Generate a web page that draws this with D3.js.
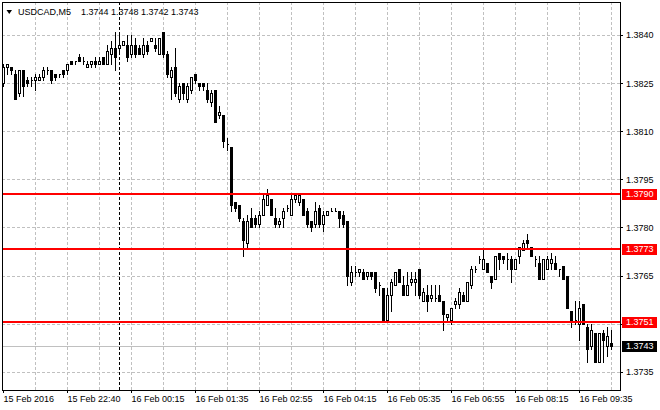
<!DOCTYPE html>
<html>
<head>
<meta charset="utf-8">
<script src="https://cdn.jsdelivr.net/npm/d3@7"></script>
<style>
  body { margin: 0; background: #fff; }
  svg { display: block; font-family: "Liberation Sans", Arial, sans-serif; }
</style>
</head>
<body>
<div id="vis"></div>
<script>
// USDCAD M5 bars (oldest first)
const symbol = "USDCAD,M5";

const open = [
  1.3825, 1.3830, 1.3830, 1.3828, 1.3822, 1.3829, 1.3826, 1.3826, 1.3826, 1.3826,
  1.3827, 1.3829, 1.3829, 1.3828, 1.3828, 1.3829, 1.3829, 1.3832, 1.3832, 1.3833,
  1.3832, 1.3830, 1.3831, 1.3832, 1.3831, 1.3833, 1.3831, 1.3834, 1.3836, 1.3836,
  1.3837, 1.3837, 1.3834, 1.3837, 1.3836, 1.3834, 1.3837, 1.3838, 1.3837, 1.3834,
  1.3841, 1.3834, 1.3827, 1.3830, 1.3820, 1.3825, 1.3820, 1.3823, 1.3828, 1.3825,
  1.3825, 1.3823, 1.3819, 1.3823, 1.3815, 1.3815, 1.3806, 1.3805, 1.3788, 1.3787,
  1.3782, 1.3775, 1.3783, 1.3783, 1.3781, 1.3784, 1.3787, 1.3789, 1.3783, 1.3781,
  1.3783, 1.3786, 1.3784, 1.3789, 1.3788, 1.3789, 1.3785, 1.3782, 1.3781, 1.3786,
  1.3781, 1.3784, 1.3785, 1.3785, 1.3785, 1.3784, 1.3782, 1.3763, 1.3766, 1.3766,
  1.3766, 1.3765, 1.3766, 1.3766, 1.3762, 1.3761, 1.3751, 1.3759, 1.3762, 1.3767,
  1.3762, 1.3759, 1.3763, 1.3763, 1.3767, 1.3757, 1.3759, 1.3758, 1.3758, 1.3759,
  1.3757, 1.3752, 1.3751, 1.3756, 1.3756, 1.3759, 1.3757, 1.3762, 1.3767, 1.3770,
  1.3767, 1.3769, 1.3765, 1.3764, 1.3772, 1.3771, 1.3770, 1.3770, 1.3767, 1.3771,
  1.3773, 1.3776, 1.3774, 1.3770, 1.3769, 1.3764, 1.3767, 1.3769, 1.3769, 1.3767,
  1.3768, 1.3765, 1.3754, 1.3751, 1.3750, 1.3756, 1.3749, 1.3743, 1.3747, 1.3738,
  1.3747, 1.3743, 1.3744
];

const high = [
  1.3831, 1.3831, 1.3830, 1.3829, 1.3829, 1.3829, 1.3827, 1.3827, 1.3828, 1.3828,
  1.3830, 1.3830, 1.3829, 1.3828, 1.3828, 1.3829, 1.3831, 1.3832, 1.3832, 1.3834,
  1.3833, 1.3832, 1.3832, 1.3833, 1.3833, 1.3833, 1.3837, 1.3838, 1.3841, 1.3840,
  1.3838, 1.3840, 1.3840, 1.3839, 1.3837, 1.3839, 1.3838, 1.3839, 1.3839, 1.3839,
  1.3841, 1.3835, 1.3830, 1.3836, 1.3825, 1.3825, 1.3825, 1.3827, 1.3828, 1.3825,
  1.3825, 1.3825, 1.3823, 1.3823, 1.3818, 1.3815, 1.3808, 1.3805, 1.3788, 1.3787,
  1.3783, 1.3784, 1.3786, 1.3784, 1.3785, 1.3790, 1.3792, 1.3789, 1.3786, 1.3783,
  1.3786, 1.3787, 1.3790, 1.3790, 1.3790, 1.3789, 1.3786, 1.3782, 1.3788, 1.3787,
  1.3785, 1.3785, 1.3786, 1.3786, 1.3785, 1.3785, 1.3782, 1.3768, 1.3768, 1.3767,
  1.3767, 1.3766, 1.3766, 1.3766, 1.3763, 1.3761, 1.3761, 1.3764, 1.3766, 1.3767,
  1.3765, 1.3766, 1.3766, 1.3766, 1.3767, 1.3761, 1.3762, 1.3762, 1.3762, 1.3762,
  1.3757, 1.3753, 1.3755, 1.3758, 1.3761, 1.3760, 1.3763, 1.3768, 1.3768, 1.3771,
  1.3773, 1.3769, 1.3765, 1.3771, 1.3772, 1.3771, 1.3772, 1.3771, 1.3770, 1.3774,
  1.3776, 1.3778, 1.3774, 1.3771, 1.3771, 1.3770, 1.3771, 1.3772, 1.3771, 1.3767,
  1.3768, 1.3765, 1.3754, 1.3757, 1.3757, 1.3756, 1.3750, 1.3750, 1.3747, 1.3747,
  1.3748, 1.3749, 1.3748
];

const low = [
  1.3824, 1.3828, 1.3828, 1.3820, 1.3821, 1.3821, 1.3824, 1.3824, 1.3823, 1.3826,
  1.3826, 1.3828, 1.3825, 1.3826, 1.3827, 1.3827, 1.3828, 1.3831, 1.3831, 1.3832,
  1.3831, 1.3830, 1.3830, 1.3830, 1.3831, 1.3831, 1.3831, 1.3831, 1.3829, 1.3834,
  1.3837, 1.3832, 1.3833, 1.3833, 1.3834, 1.3833, 1.3834, 1.3838, 1.3835, 1.3834,
  1.3833, 1.3827, 1.3820, 1.3821, 1.3819, 1.3820, 1.3819, 1.3822, 1.3825, 1.3823,
  1.3823, 1.3819, 1.3818, 1.3813, 1.3814, 1.3805, 1.3804, 1.3785, 1.3785, 1.3782,
  1.3771, 1.3774, 1.3780, 1.3780, 1.3780, 1.3784, 1.3787, 1.3784, 1.3780, 1.3780,
  1.3780, 1.3785, 1.3784, 1.3788, 1.3787, 1.3784, 1.3780, 1.3779, 1.3780, 1.3780,
  1.3779, 1.3784, 1.3785, 1.3785, 1.3780, 1.3780, 1.3762, 1.3762, 1.3765, 1.3765,
  1.3764, 1.3764, 1.3764, 1.3760, 1.3759, 1.3751, 1.3751, 1.3754, 1.3762, 1.3763,
  1.3759, 1.3759, 1.3762, 1.3759, 1.3758, 1.3757, 1.3754, 1.3757, 1.3757, 1.3757,
  1.3748, 1.3751, 1.3750, 1.3755, 1.3755, 1.3757, 1.3757, 1.3761, 1.3766, 1.3769,
  1.3767, 1.3766, 1.3761, 1.3764, 1.3767, 1.3769, 1.3767, 1.3763, 1.3767, 1.3769,
  1.3773, 1.3774, 1.3771, 1.3768, 1.3764, 1.3764, 1.3767, 1.3767, 1.3767, 1.3765,
  1.3764, 1.3755, 1.3749, 1.3750, 1.3745, 1.3750, 1.3738, 1.3742, 1.3738, 1.3738,
  1.3738, 1.3740, 1.3742
];

const close = [
  1.3830, 1.3831, 1.3829, 1.3820, 1.3829, 1.3824, 1.3825, 1.3826, 1.3827, 1.3827,
  1.3829, 1.3829, 1.3826, 1.3827, 1.3828, 1.3828, 1.3831, 1.3831, 1.3832, 1.3832,
  1.3832, 1.3831, 1.3832, 1.3831, 1.3832, 1.3831, 1.3835, 1.3836, 1.3833, 1.3837,
  1.3838, 1.3833, 1.3837, 1.3834, 1.3834, 1.3837, 1.3835, 1.3839, 1.3836, 1.3839,
  1.3834, 1.3828, 1.3829, 1.3822, 1.3824, 1.3822, 1.3824, 1.3827, 1.3826, 1.3824,
  1.3824, 1.3820, 1.3822, 1.3813, 1.3816, 1.3807, 1.3806, 1.3787, 1.3786, 1.3783,
  1.3776, 1.3782, 1.3780, 1.3781, 1.3784, 1.3789, 1.3790, 1.3784, 1.3781, 1.3782,
  1.3785, 1.3786, 1.3789, 1.3790, 1.3790, 1.3784, 1.3781, 1.3780, 1.3785, 1.3781,
  1.3784, 1.3785, 1.3785, 1.3785, 1.3783, 1.3781, 1.3765, 1.3766, 1.3766, 1.3767,
  1.3764, 1.3766, 1.3765, 1.3761, 1.3762, 1.3751, 1.3759, 1.3763, 1.3766, 1.3763,
  1.3759, 1.3762, 1.3764, 1.3764, 1.3759, 1.3760, 1.3757, 1.3759, 1.3758, 1.3757,
  1.3753, 1.3753, 1.3755, 1.3757, 1.3760, 1.3757, 1.3763, 1.3767, 1.3767, 1.3770,
  1.3770, 1.3766, 1.3763, 1.3771, 1.3770, 1.3770, 1.3770, 1.3767, 1.3770, 1.3774,
  1.3775, 1.3775, 1.3771, 1.3770, 1.3764, 1.3770, 1.3770, 1.3770, 1.3767, 1.3767,
  1.3764, 1.3755, 1.3751, 1.3751, 1.3755, 1.3750, 1.3742, 1.3748, 1.3738, 1.3747,
  1.3745, 1.3746, 1.3743
];

// time axis: one label every 16 bars, first bar is 15 Feb 21:20
const timeLabels = [
  "15 Feb 2016", "15 Feb 22:40", "16 Feb 00:15", "16 Feb 01:35", "16 Feb 02:55",
  "16 Feb 04:15", "16 Feb 05:35", "16 Feb 06:55", "16 Feb 08:15", "16 Feb 09:35"
];
const labelEvery = 16;
const gridEvery = 8;
const separatorBar = 29; // first bar of 16 Feb

const priceTicks = [1.3735, 1.3750, 1.3765, 1.3780, 1.3795, 1.3810, 1.3825, 1.3840];
const priceRange = [1.37293, 1.38503];

// horizontal line objects
const levels = [1.37904, 1.37734, 1.37506];

////////////////////////////////////////
/////////////// Options ////////////////
////////////////////////////////////////

const options = {
  selector: "#vis",
  width: 660,
  height: 410,
  plot: { left: 2, top: 2, right: 620, bottom: 390 },
  step: 4,
  grid: "#c0c0c0",
  dash: "3,2",
  levelColor: "#ff0000",
  fontSize: 9,
};

const p = options.plot;
const n = close.length;
const bars = d3.range(n).map((i) => ({
  i: i, o: open[i], h: high[i], l: low[i], c: close[i],
}));

////////////////////////////////////////
////////////// Scales //////////////////
////////////////////////////////////////

// bar centre positions
const x = d3
  .scaleLinear()
  .domain([0, n - 1])
  .range([p.left + 1, p.left + 1 + options.step * (n - 1)]);

const y = d3.scaleLinear().domain(priceRange).range([p.bottom, p.top]);

const snap = (v) => Math.round(v) + 0.5;

////////////////////////////////////////
////////////// DOM Setup ///////////////
////////////////////////////////////////

const svg = d3
  .select(options.selector)
  .append("svg")
  .attr("width", options.width)
  .attr("height", options.height)
  .attr("shape-rendering", "crispEdges");

// grid
const grid = svg.append("g");
grid
  .selectAll("line.h")
  .data(priceTicks)
  .join("line")
  .attr("class", "h")
  .attr("x1", p.left)
  .attr("x2", p.right)
  .attr("y1", (d) => snap(y(d)))
  .attr("y2", (d) => snap(y(d)))
  .attr("stroke", options.grid)
  .attr("stroke-dasharray", options.dash);

grid
  .selectAll("line.v")
  .data(d3.range(gridEvery, n, gridEvery))
  .join("line")
  .attr("class", "v")
  .attr("x1", (d) => snap(x(d)))
  .attr("x2", (d) => snap(x(d)))
  .attr("y1", p.top)
  .attr("y2", p.bottom)
  .attr("stroke", options.grid)
  .attr("stroke-dasharray", options.dash);

// bid line
svg
  .append("line")
  .attr("x1", p.left)
  .attr("x2", p.right)
  .attr("y1", snap(y(close[n - 1])))
  .attr("y2", snap(y(close[n - 1])))
  .attr("stroke", options.grid);

// day separator
svg
  .append("line")
  .attr("x1", snap(x(separatorBar)))
  .attr("x2", snap(x(separatorBar)))
  .attr("y1", p.top)
  .attr("y2", p.bottom)
  .attr("stroke", "#000")
  .attr("stroke-dasharray", "3,2");

// candles
const candles = svg.append("g").selectAll("g").data(bars).join("g");

candles
  .append("line")
  .attr("x1", (d) => x(d.i) + 0.5)
  .attr("x2", (d) => x(d.i) + 0.5)
  .attr("y1", (d) => Math.round(y(d.h)))
  .attr("y2", (d) => Math.round(y(d.l)) + 1)
  .attr("stroke", "#000");

candles
  .append("path")
  .attr("d", (d) => {
    const top = Math.round(y(Math.max(d.o, d.c))) + 0.5;
    const bot = Math.round(y(Math.min(d.o, d.c))) + 0.5;
    const x0 = x(d.i) - 0.5;
    return `M${x0},${top}H${x0 + 2}V${bot}H${x0}Z`;
  })
  .attr("fill", (d) => (d.c > d.o ? "#fff" : "#000"))
  .attr("stroke", "#000");

// level lines
svg
  .append("g")
  .selectAll("line")
  .data(levels)
  .join("line")
  .attr("x1", p.left)
  .attr("x2", p.right)
  .attr("y1", (d) => Math.round(y(d)))
  .attr("y2", (d) => Math.round(y(d)))
  .attr("stroke", options.levelColor)
  .attr("stroke-width", 2);

// frame
svg
  .append("rect")
  .attr("x", p.left + 0.5)
  .attr("y", p.top + 0.5)
  .attr("width", p.right - p.left)
  .attr("height", p.bottom - p.top)
  .attr("fill", "none")
  .attr("stroke", "#000");

////////////////////////////////////////
////////////// Axes ////////////////////
////////////////////////////////////////

const yAxis = svg
  .append("g")
  .attr("transform", `translate(${p.right},0)`)
  .call(
    d3
      .axisRight(y)
      .tickValues(priceTicks)
      .tickSize(3)
      .tickPadding(3)
      .tickFormat(d3.format(".4f"))
  )
  .attr("font-family", null)
  .attr("font-size", options.fontSize);
yAxis.select(".domain").remove();
yAxis.selectAll("line").attr("stroke", "#000");
yAxis.selectAll("text").attr("fill", "#000");

const xAxis = svg
  .append("g")
  .attr("transform", `translate(0,${p.bottom})`)
  .call(
    d3
      .axisBottom(x)
      .tickValues(d3.range(0, n, labelEvery))
      .tickSize(3)
      .tickPadding(3)
      .tickFormat((d, k) => timeLabels[k])
  )
  .attr("font-family", null)
  .attr("font-size", options.fontSize);
xAxis.select(".domain").remove();
xAxis.selectAll("line").attr("stroke", "#000");
xAxis.selectAll("text").attr("text-anchor", "start").attr("x", 0).attr("fill", "#000");

// price labels on the right scale
const tags = levels
  .map((d) => ({ v: d, bg: options.levelColor }))
  .concat([{ v: close[n - 1], bg: "#000" }]);

const tag = svg.append("g").selectAll("g").data(tags).join("g");
tag
  .append("rect")
  .attr("x", p.right + 2)
  .attr("y", (d) => Math.round(y(d.v)) - 5)
  .attr("width", 35)
  .attr("height", 11)
  .attr("fill", (d) => d.bg);
tag
  .append("text")
  .attr("x", p.right + 6)
  .attr("y", (d) => Math.round(y(d.v)) + 0.5)
  .attr("dy", "0.32em")
  .attr("font-size", options.fontSize)
  .attr("fill", "#fff")
  .text((d) => d3.format(".4f")(d.v));

////////////////////////////////////////
////////////// Header //////////////////
////////////////////////////////////////

svg
  .append("path")
  .attr("d", "M6.5,10L12,10L9.25,14Z")
  .attr("fill", "#000")
  .attr("shape-rendering", "auto");

svg
  .append("text")
  .attr("x", 18)
  .attr("y", 15)
  .attr("font-size", options.fontSize)
  .text(symbol);

svg
  .append("text")
  .attr("x", 81)
  .attr("y", 15)
  .attr("font-size", options.fontSize)
  .text([open[n - 1], high[n - 1], low[n - 1], close[n - 1]].map(d3.format(".4f")).join(" "));
</script>
</body>
</html>
